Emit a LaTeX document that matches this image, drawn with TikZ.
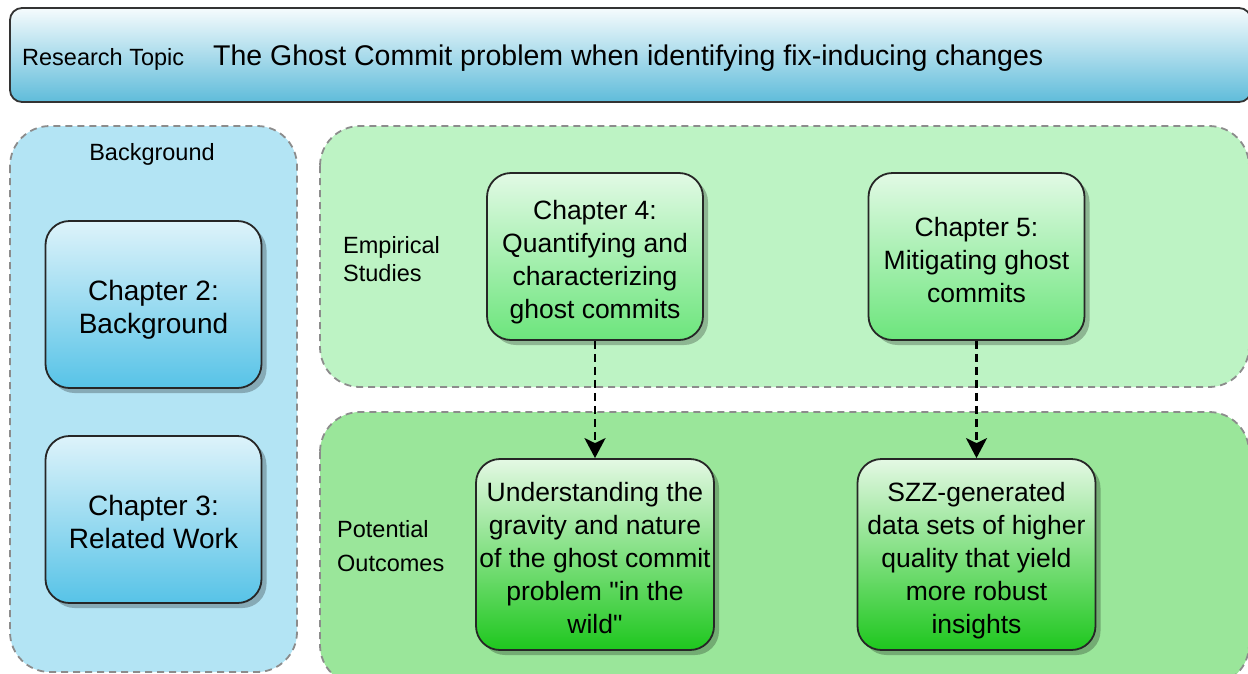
\documentclass[tikz,border=0pt]{standalone}
\usepackage{fontspec}
\setmainfont{Liberation Sans}
\usetikzlibrary{arrows.meta,shadows}

% centred lines, nudged down a little inside the box
\newcommand\boxtext[1]{\raisebox{-6pt}[\height][\depth]{\begin{tabular}{@{}c@{}}#1\end{tabular}}}

\begin{document}
\begin{tikzpicture}[x=1pt, y=-1pt,
    box/.style={draw=black!85, line width=1.8pt, rounded corners=24pt,
      minimum width=216pt, minimum height=167pt, inner sep=0pt,
      drop shadow={shadow xshift=5pt, shadow yshift=-5pt, opacity=0.25, fill=black},
      font=\fontsize{26.5}{33}\selectfont},
    bluebox/.style={box, top color=blue1!20!white, bottom color=blue1,
      font=\fontsize{28}{33}\selectfont},
    studybox/.style={box, top color=green1!20!white, bottom color=green1},
    outbox/.style={box, top color=green2!12!white, bottom color=green2,
      minimum width=238pt, minimum height=191pt},
    region/.style={draw=gray!90, line width=1.8pt, dash pattern=on 7pt off 5pt,
      rounded corners=40pt},
    lbl/.style={font=\fontsize{23.5}{28}\selectfont, align=left, inner sep=0pt},
    flow/.style={line width=2.4pt, dash pattern=on 8pt off 5pt,
      -{Stealth[length=20pt, width=21pt, inset=5pt]}}]
  \definecolor{blue1}{HTML}{57C3E7}
  \definecolor{green1}{HTML}{6CE57C}
  \definecolor{green2}{HTML}{1EC71E}
  \definecolor{topic}{HTML}{5FBCDA}

  \useasboundingbox (0,0) rectangle (1248,673);
  \clip (0,0) rectangle (1248,673);

  % topic banner
  \node[draw=black!80, line width=1.8pt, rounded corners=12pt,
        top color=topic!6!white, bottom color=topic,
        minimum width=1241pt, minimum height=94pt] (topic) at (630.5,55) {};
  \node[lbl, anchor=west] (topiclbl) at (22,59) {Research Topic};
  \node[anchor=west, inner sep=0pt, font=\fontsize{28.5}{34}\selectfont]
    (title) at (213,58) {The Ghost Commit problem when identifying fix-inducing changes};

  % the three regions
  \filldraw[region, fill=blue1!45!white] (10,126) rectangle (297,672);
  \filldraw[region, fill=green1!45!white] (320,126) rectangle (1249,387);
  \filldraw[region, fill=green2!45!white] (320,412) rectangle (1249,685);

  \node[lbl] (bglbl) at (152,154) {Background};
  \node[lbl, anchor=west] (emplbl) at (343,259) {Empirical\\Studies};
  \node[lbl, anchor=west, font=\fontsize{23.5}{34}\selectfont]
    (outlbl) at (337,546) {Potential\\Outcomes};

  % chapters
  \node[bluebox] (ch2) at (153.5,304.5) {\boxtext{Chapter 2:\\Background}};
  \node[bluebox] (ch3) at (153.5,519.5) {\boxtext{Chapter 3:\\Related Work}};
  \node[studybox] (ch4) at (595,256.5)
    {\boxtext{Chapter 4:\\Quantifying and\\characterizing\\ghost commits}};
  \node[studybox] (ch5) at (976.5,256.5)
    {\boxtext{Chapter 5:\\Mitigating ghost\\commits}};

  % outcomes
  \node[outbox] (out4) at (595,554.5)
    {\boxtext{Understanding the\\gravity and nature\\of the ghost commit\\problem \textquotedbl in the\\wild\textquotedbl}};
  \node[outbox] (out5) at (976.5,554.5)
    {\boxtext{SZZ-generated\\data sets of higher\\quality that yield\\more robust\\insights}};

  \draw[flow] (ch4) -- (out4);
  \draw[flow] (ch5) -- (out5);
\end{tikzpicture}
\end{document}
